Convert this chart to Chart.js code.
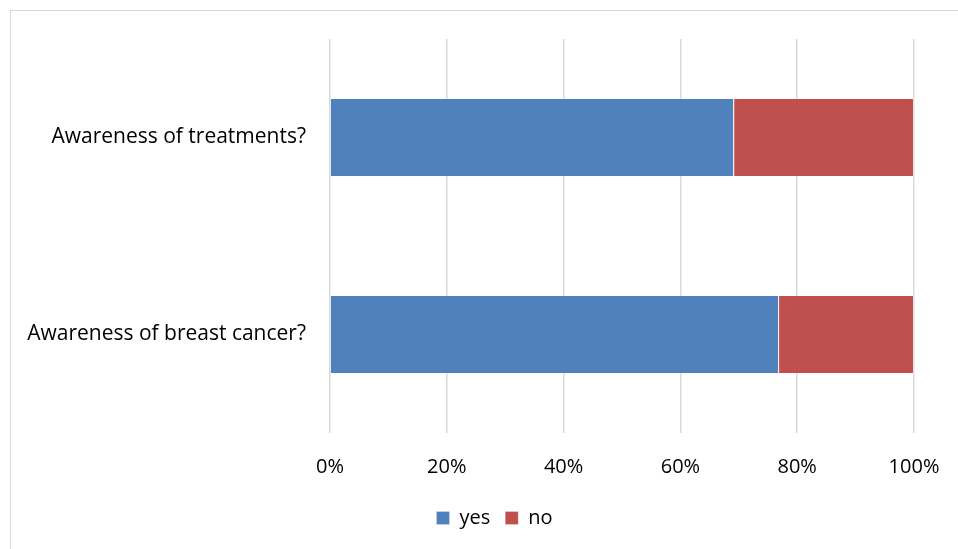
<!DOCTYPE html>
<html>
<head>
<meta charset="utf-8">
<script src="https://cdn.jsdelivr.net/npm/chart.js@4.4.1/dist/chart.umd.min.js"></script>
<style>
  html, body { margin: 0; padding: 0; background: #fff; overflow: hidden; }
  #frame {
    position: absolute; left: 10px; top: 10px;
    width: 1000px; height: 600px;
    border-left: 1px solid #d9d9d9; border-top: 1px solid #d9d9d9;
  }
  #wrap { position: absolute; left: 0; top: 0; width: 958px; height: 549px; }
</style>
</head>
<body>
<div id="frame"></div>
<div id="wrap"><canvas id="awarenessChart"></canvas></div>
<script>
const questions = ["Awareness of treatments?", "Awareness of breast cancer?"];
const yesShare = [69.2, 76.9];
const noShare = [30.8, 23.1];
const percentTicks = [0, 20, 40, 60, 80, 100];

const FONT = "'Open Sans', 'Noto Sans', sans-serif";

// the legend sits centred under the whole frame, not under the plot
const legendShift = {
  id: "legendShift",
  afterLayout(chart) {
    if (chart.legend) chart.legend.left += 75;
  }
};

new Chart(document.getElementById("awarenessChart"), {
  type: "bar",
  data: {
    labels: questions,
    datasets: [
      { label: "yes", data: yesShare, backgroundColor: "#4f81bd",
        borderColor: "rgba(255,255,255,0.25)", borderWidth: 1 },
      { label: "no", data: noShare, backgroundColor: "#c0504d",
        borderColor: "rgba(255,255,255,0.25)", borderWidth: 1 }
    ]
  },
  options: {
    indexAxis: "y",
    responsive: true,
    maintainAspectRatio: false,
    animation: false,
    datasets: { bar: { categoryPercentage: 0.8, barPercentage: 0.5 } },
    layout: { padding: { left: 0, right: 44, top: 39, bottom: 11 } },
    scales: {
      x: {
        stacked: true,
        min: 0,
        max: 100,
        afterBuildTicks: s => { s.ticks = percentTicks.map(v => ({ value: v })); },
        afterFit: s => {
          s.height = 60;
          s.paddingLeft = 0;
          s.paddingRight = 0;
        },
        grid: { color: "#d9d9d9", lineWidth: 1.5, drawTicks: false },
        border: { display: false },
        ticks: {
          padding: 22,
          color: "#000",
          font: { family: FONT, size: 20 },
          callback: v => v + "%"
        }
      },
      y: {
        stacked: true,
        afterFit: s => { s.width = 330; },
        grid: { display: false },
        border: { display: false },
        ticks: {
          padding: 16,
          color: "#000",
          font: { family: FONT, size: 21 }
        }
      }
    },
    plugins: {
      legend: {
        position: "bottom",
        labels: {
          boxWidth: 13,
          boxHeight: 13,
          padding: 15,
          color: "#000",
          font: { family: FONT, size: 20 }
        }
      },
      tooltip: { enabled: false }
    }
  },
  plugins: [legendShift]
});
</script>
</body>
</html>
